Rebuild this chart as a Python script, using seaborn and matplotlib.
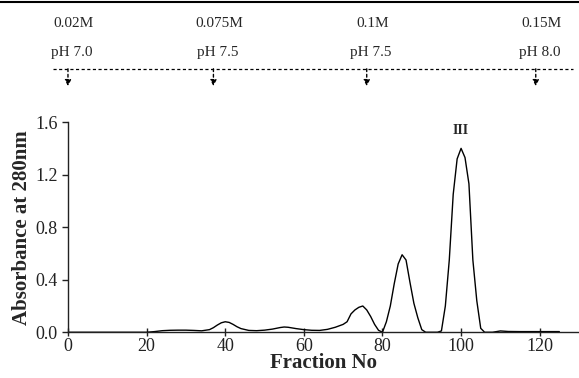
import numpy as np
import pandas as pd
import seaborn as sns
import matplotlib.pyplot as plt
from matplotlib.lines import Line2D

# values
fraction = [0, 10, 20, 22, 24, 26, 28, 30, 32, 34, 36, 37, 38, 39, 40, 41, 42, 43, 44,
            46, 48, 50, 52, 54, 55, 56, 58, 60, 62, 64, 66, 68, 70, 71, 72, 73, 74, 75,
            76, 77, 78, 79, 80, 81, 82, 83, 84, 85, 86, 87, 88, 89, 90, 91, 92, 94, 95,
            96, 97, 98, 99, 100, 101, 102, 103, 104, 105, 106, 108, 110, 112, 115, 120, 125]
absorbance = [0, 0, 0, 0.005, 0.012, 0.015, 0.016, 0.016, 0.014, 0.011, 0.02, 0.035, 0.055,
              0.072, 0.08, 0.075, 0.06, 0.042, 0.028, 0.014, 0.012, 0.016, 0.024, 0.036,
              0.04, 0.038, 0.028, 0.02, 0.015, 0.014, 0.022, 0.038, 0.06, 0.08, 0.14, 0.17,
              0.19, 0.2, 0.17, 0.12, 0.06, 0.015, 0.0, 0.08, 0.2, 0.37, 0.52, 0.59, 0.55,
              0.38, 0.22, 0.11, 0.02, 0.0, 0, 0, 0.01, 0.2, 0.55, 1.05, 1.32, 1.4, 1.33,
              1.13, 0.55, 0.24, 0.03, 0, 0, 0.01, 0.006, 0.005, 0.005, 0.005]

# buffer steps
step_frac = [0, 37, 76, 119]
step_conc = ['0.02M', '0.075M', '0.1M', '0.15M']
step_ph = ['pH 7.0', 'pH 7.5', 'pH 7.5', 'pH 8.0']

df = pd.DataFrame({'fraction': fraction, 'absorbance': absorbance})

sns.set_style('ticks')
plt.rcParams['font.family'] = ['Liberation Serif', 'DejaVu Serif']

fig = plt.figure(figsize=(5.79, 3.78), dpi=100)
ax = fig.add_axes([0.1174, 0.121, 0.8826, 0.556])

sns.lineplot(data=df, x='fraction', y='absorbance', color='black', lw=1.0, ax=ax)

ax.set_xlim(0, 130)
ax.set_ylim(0, 1.6)
ax.set_xticks([0, 20, 40, 60, 80, 100, 120])
ax.set_yticks([0.0, 0.4, 0.8, 1.2, 1.6])
ax.set_yticklabels(['0.0', '0.4', '0.8', '1.2', '1.6'])
ax.tick_params(axis='x', direction='inout', length=6, width=1, labelsize=13, pad=1,
               colors='#222222')
ax.tick_params(axis='y', direction='out', length=4, width=1, labelsize=13, colors='#222222')
ax.set_xlabel('Fraction No', fontsize=15, fontweight='bold', labelpad=-1)
ax.set_ylabel('Absorbance at 280nm', fontsize=15, fontweight='bold', labelpad=2)
sns.despine(ax=ax, top=True, right=True)
for s in ['left', 'bottom']:
    ax.spines[s].set_linewidth(1)
    ax.spines[s].set_color('#222222')

ax.text(100, 1.49, 'III', ha='center', va='bottom', fontsize=10, fontweight='bold')

# buffer step annotations above the plot
for f, c, p in zip(step_frac, step_conc, step_ph):
    ax.annotate(c, xy=(f, 0.937), xycoords=('data', 'figure fraction'),
                xytext=(4, 0), textcoords='offset points',
                ha='center', va='center', fontsize=11, annotation_clip=False)
    ax.annotate(p, xy=(f, 0.862), xycoords=('data', 'figure fraction'),
                xytext=(3, 0), textcoords='offset points',
                ha='center', va='center', fontsize=11, annotation_clip=False)
    ax.annotate('', xy=(f, 0.772), xycoords=('data', 'figure fraction'),
                xytext=(f, 0.818), textcoords=('data', 'figure fraction'),
                arrowprops=dict(arrowstyle='-|>', color='black', lw=1,
                                linestyle=(0, (2, 2)), mutation_scale=9,
                                shrinkA=0, shrinkB=0),
                annotation_clip=False)

fig.add_artist(Line2D([0.092, 0.99], [0.818, 0.818], transform=fig.transFigure,
                      color='black', lw=0.9, linestyle=(0, (2.5, 2))))
fig.add_artist(Line2D([0, 1], [0.996, 0.996], transform=fig.transFigure,
                      color='black', lw=1.5))

fig.savefig('out.png', dpi=100)
